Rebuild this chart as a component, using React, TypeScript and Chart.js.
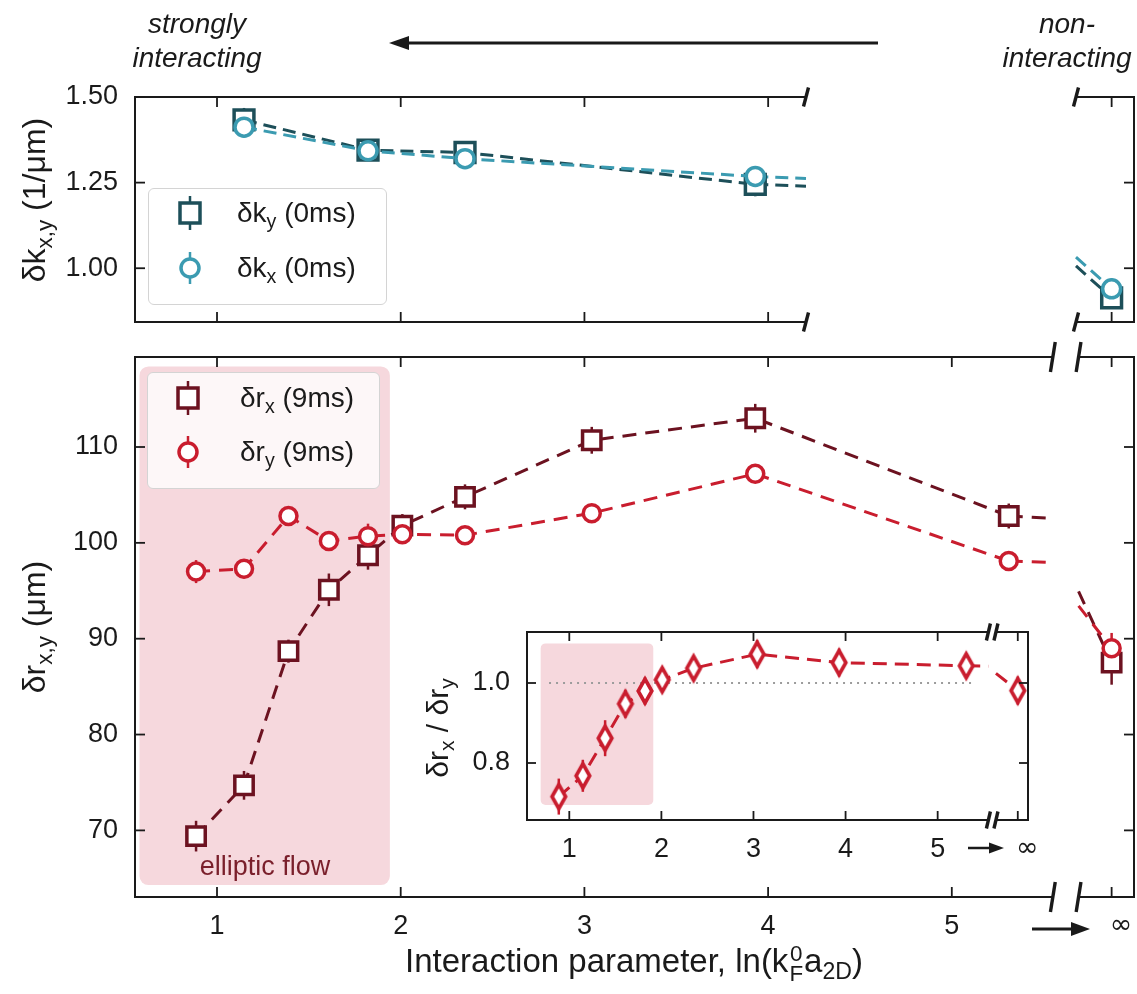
import React, { useEffect, useRef } from 'react';
import { Chart, registerables } from 'chart.js';

Chart.register(...registerables);

const FONT = "'Liberation Sans', Arial, Helvetica, sans-serif";
const MATH_FONT = "'DejaVu Sans', sans-serif";
Chart.defaults.font.family = FONT;

// ---------------------------------------------------------------------------
// Measured values
// ---------------------------------------------------------------------------
// Interaction parameter ln(k_F^0 a_2D) of the finite-interaction runs
const lnKa = [0.886, 1.147, 1.389, 1.609, 1.822, 2.009, 2.35, 3.04, 3.93, 5.31];

// Cloud widths after 9 ms of expansion (μm)
const drX = [69.4, 74.7, 88.7, 95.1, 98.7, 101.8, 104.8, 110.7, 113.0, 102.8];
const drXErr = [1.6, 1.5, 1.2, 1.7, 1.5, 1.2, 1.3, 1.4, 1.5, 1.3];
const drY = [97.0, 97.3, 102.8, 100.2, 100.7, 100.9, 100.8, 103.1, 107.2, 98.1];
const drYErr = [1.2, 1.0, 1.0, 1.0, 1.3, 0.9, 0.8, 0.8, 0.9, 0.8];

// Aspect ratio δr_x / δr_y
const ratio = [0.716, 0.768, 0.862, 0.948, 0.98, 1.008, 1.037, 1.072, 1.051, 1.043];
const ratioErr = [0.045, 0.04, 0.045, 0.035, 0.035, 0.03, 0.03, 0.035, 0.035, 0.03];

// In-trap momentum widths at 0 ms (1/μm), taken on a subset of runs
const lnKaMom = [1.147, 1.822, 2.35, 3.93];
const dkY = [1.433, 1.345, 1.338, 1.245];
const dkYErr = [0.035, 0.03, 0.03, 0.035];
const dkX = [1.412, 1.343, 1.32, 1.268];
const dkXErr = [0.03, 0.03, 0.03, 0.03];

// Non-interacting limit, ln(k_F^0 a_2D) → ∞
const drXInf = 87.5;
const drXInfErr = 2.3;
const drYInf = 89.0;
const drYInfErr = 1.6;
const ratioInf = 0.981;
const ratioInfErr = 0.035;
const dkYInf = 0.9135;
const dkYInfErr = 0.03;
const dkXInf = 0.94;
const dkXInfErr = 0.03;

// Tick values
const xTickVals = [1, 2, 3, 4, 5];
const dkTicks = [1.0, 1.25, 1.5];
const drTicks = [70, 80, 90, 100, 110];
const ratioTicks = [0.8, 1.0];

// Elliptic-flow window [x0, x1, y0, y1]
const flowBand = [0.578, 1.941, 64.3, 118.4];
const flowBandInset = [0.689, 1.912, 0.695, 1.099];
// Dotted guide δr_x = δr_y, x extent
const unityLine = [0.78, 5.38];

// ---------------------------------------------------------------------------
// Layout
// ---------------------------------------------------------------------------
const W = 1137;
const H = 994;
const YW = 100; // reserved y-axis width
const XH = 60; // reserved x-axis height
const INF_AT = 5.87; // axis position of the ∞ column
const FAR = 20; // where ∞ lies as seen from the finite-x side of a break

const INK = '#1a1a1a';
const TEAL_D = '#1d4f59';
const TEAL_L = '#3b9bb1';
const WINE = '#6c1220';
const RED = '#c91d2e';
const PINK = '#f6d8dd';

type Area = { left: number; top: number; right: number; bottom: number };

const pts = (xs: number[], ys: number[]) => xs.map((x, i) => ({ x, y: ys[i] }));
const lerp = (x0: number, y0: number, x1: number, y1: number, x: number) =>
  y0 + ((y1 - y0) * (x - x0)) / (x1 - x0);

// segment from the last finite point towards ∞, cut at the left side of a break
const toBreak = (xs: number[], ys: number[], yInf: number, xBreak: number) => {
  const i = xs.length - 1;
  return [
    { x: xs[i], y: ys[i] },
    { x: xBreak, y: lerp(xs[i], ys[i], FAR, yInf, xBreak) },
  ];
};
// segment entering the ∞ column from the right side of a break
const fromBreak = (ys: number[], yInf: number, xBreak: number, xPrior: number) => {
  const y0 = ys[ys.length - 1];
  return [
    { x: xBreak, y: lerp(xPrior, y0, INF_AT, yInf, xBreak) },
    { x: INF_AT, y: yInf },
  ];
};

function series(
  data: any[],
  color: string,
  style: any,
  radius: any,
  dash: number[],
  errors: number[] | null,
  order: number
) {
  return {
    data,
    errors,
    borderColor: color,
    backgroundColor: '#fff',
    borderWidth: 3,
    borderDash: dash,
    showLine: true,
    pointStyle: style,
    pointRadius: radius,
    pointHoverRadius: radius,
    pointBorderWidth: 3.5,
    pointBackgroundColor: '#fff',
    pointBorderColor: color,
    clip: false,
    order,
  };
}

type FrameOpts = {
  sides: string[];
  gap?: number[];
  breaks: number[];
  tickLen: number;
  breakLen: number;
  breakSlant: number;
};

function framePlugin(o: FrameOpts) {
  return {
    id: 'frame',
    afterDatasetsDraw(chart: any) {
      const { ctx, chartArea: a } = chart;
      const xs = chart.scales.x;
      const ys = chart.scales.y;
      const has = (s: string) => o.sides.indexOf(s) >= 0;
      const seg = (x0: number, y0: number, x1: number, y1: number) => {
        ctx.beginPath();
        ctx.moveTo(x0, y0);
        ctx.lineTo(x1, y1);
        ctx.stroke();
      };
      ctx.save();
      ctx.strokeStyle = INK;
      ctx.lineCap = 'butt';
      ctx.lineWidth = 2;
      const gap = o.gap ? o.gap.map((v) => xs.getPixelForValue(v)) : null;
      for (const side of ['top', 'bottom']) {
        if (!has(side)) continue;
        const yy = a[side];
        if (gap) {
          seg(a.left, yy, gap[0], yy);
          seg(gap[1], yy, a.right, yy);
        } else {
          seg(a.left, yy, a.right, yy);
        }
      }
      if (has('left')) seg(a.left, a.top - 1, a.left, a.bottom + 1);
      if (has('right')) seg(a.right, a.top - 1, a.right, a.bottom + 1);

      ctx.lineWidth = 1.8;
      const L = o.tickLen;
      for (const t of xs.ticks) {
        if (t.value < xs.min || t.value > xs.max) continue;
        const px = xs.getPixelForValue(t.value);
        if (has('top')) seg(px, a.top, px, a.top + L);
        if (has('bottom')) seg(px, a.bottom, px, a.bottom - L);
      }
      for (const t of ys.ticks) {
        if (t.value < ys.min || t.value > ys.max) continue;
        const py = ys.getPixelForValue(t.value);
        if (has('left')) seg(a.left, py, a.left + L, py);
        if (has('right')) seg(a.right, py, a.right - L, py);
      }

      ctx.lineWidth = 3.4;
      for (const b of o.breaks) {
        const px = xs.getPixelForValue(b);
        for (const side of ['top', 'bottom']) {
          const yy = a[side];
          seg(px - o.breakSlant, yy + o.breakLen / 2, px + o.breakSlant, yy - o.breakLen / 2);
        }
      }
      ctx.restore();
    },
  };
}

function bandPlugin(box: number[] | null, color: string, radius: number) {
  return {
    id: 'band',
    beforeDatasetsDraw(chart: any) {
      if (!box) return;
      const { ctx } = chart;
      const xs = chart.scales.x;
      const ys = chart.scales.y;
      const x0 = xs.getPixelForValue(box[0]);
      const x1 = xs.getPixelForValue(box[1]);
      const y0 = ys.getPixelForValue(box[3]);
      const y1 = ys.getPixelForValue(box[2]);
      ctx.save();
      ctx.fillStyle = color;
      ctx.beginPath();
      ctx.roundRect(x0, y0, x1 - x0, y1 - y0, radius);
      ctx.fill();
      ctx.restore();
    },
  };
}

// vertical error bars taken from each dataset's `errors` list
const errorBarPlugin = {
  id: 'errbars',
  beforeDatasetsDraw(chart: any) {
    const { ctx } = chart;
    const ys = chart.scales.y;
    ctx.save();
    ctx.lineWidth = 2.5;
    chart.data.datasets.forEach((ds: any, i: number) => {
      if (!ds.errors) return;
      const meta = chart.getDatasetMeta(i);
      ctx.strokeStyle = ds.borderColor;
      meta.data.forEach((el: any, j: number) => {
        const e = ds.errors[j];
        if (!e) return;
        const v = ds.data[j].y;
        ctx.beginPath();
        ctx.moveTo(el.x, ys.getPixelForValue(v - e));
        ctx.lineTo(el.x, ys.getPixelForValue(v + e));
        ctx.stroke();
      });
    });
    ctx.restore();
  },
};

function options(
  area: Area,
  xr: number[],
  yr: number[],
  xTicks: number[],
  yTicks: number[],
  showX: boolean,
  showY: boolean,
  yDigits: number
) {
  const tickFont = { family: FONT, size: 27 };
  return {
    responsive: false,
    animation: false,
    events: [],
    layout: {
      autoPadding: false,
      padding: {
        left: area.left - YW,
        top: area.top,
        right: W - area.right,
        bottom: H - area.bottom - XH,
      },
    },
    plugins: { legend: { display: false }, tooltip: { enabled: false } },
    scales: {
      x: {
        type: 'linear',
        bounds: 'data',
        min: xr[0],
        max: xr[1],
        grid: { display: false, drawTicks: false },
        border: { display: false },
        afterBuildTicks: (s: any) => {
          s.ticks = xTicks.map((v) => ({ value: v }));
        },
        afterFit: (s: any) => {
          s.height = XH;
          // labels may run past the plot edge; keep the plot area fixed
          s.paddingLeft = 0;
          s.paddingRight = 0;
        },
        ticks: {
          display: showX,
          autoSkip: false,
          maxRotation: 0,
          padding: 13,
          color: INK,
          font: (c: any) =>
            c.tick && c.tick.value === INF_AT ? { family: MATH_FONT, size: 27 } : tickFont,
          // the ∞ glyph sits a little right of its tick
          callback: (v: number) => (v === INF_AT ? '\u2002\u2009∞' : String(v)),
        },
      },
      y: {
        type: 'linear',
        bounds: 'data',
        min: yr[0],
        max: yr[1],
        grid: { display: false, drawTicks: false },
        border: { display: false },
        afterBuildTicks: (s: any) => {
          s.ticks = yTicks.map((v) => ({ value: v }));
        },
        afterFit: (s: any) => {
          s.width = YW;
          s.paddingTop = 0;
          s.paddingBottom = 0;
        },
        ticks: {
          display: showY,
          autoSkip: false,
          padding: 17,
          color: INK,
          font: tickFont,
          callback: (v: number) => (yDigits ? Number(v).toFixed(yDigits) : String(v)),
        },
      },
    },
  };
}

function makeDiamond(color: string) {
  const c = document.createElement('canvas');
  c.width = 22;
  c.height = 38;
  const g = c.getContext('2d')!;
  g.lineWidth = 3.6;
  g.strokeStyle = color;
  g.fillStyle = '#fff';
  g.lineJoin = 'miter';
  g.beginPath();
  g.moveTo(11, 7);
  g.lineTo(17.8, 19);
  g.lineTo(11, 31);
  g.lineTo(4.2, 19);
  g.closePath();
  g.fill();
  g.stroke();
  return c;
}

// ---------------------------------------------------------------------------
// Panels
// ---------------------------------------------------------------------------
const TOP_L: Area = { left: 135, top: 97, right: 806, bottom: 322 };
const TOP_R: Area = { left: 1076, top: 97, right: 1134, bottom: 322 };
const MAIN: Area = { left: 135, top: 357, right: 1134, bottom: 897 };
const INSET: Area = { left: 527, top: 632, right: 1028, bottom: 820 };

const X_MAIN = [0.5536, 5.9918];
const X_TOP_L = [0.5536, 4.206];
const X_TOP_R = [5.676, 5.9918];
const X_INSET = [0.5407, 5.981];
const GAP_MAIN = [5.55, 5.69];
const GAP_INSET = [5.551, 5.633];

const DASH_TOP = [13, 7];
const DASH_MAIN = [14, 9];
const DASH_INSET = [14, 8];

function topLeftConfig(): any {
  return {
    type: 'scatter',
    data: {
      datasets: [
        series(pts(lnKaMom, dkX), TEAL_L, 'circle', 9, DASH_TOP, dkXErr, 0),
        series(pts(lnKaMom, dkY), TEAL_D, 'rect', 14, DASH_TOP, dkYErr, 1),
        series(toBreak(lnKaMom, dkX, dkXInf, X_TOP_L[1]), TEAL_L, 'circle', 0, DASH_TOP, null, 2),
        series(toBreak(lnKaMom, dkY, dkYInf, X_TOP_L[1]), TEAL_D, 'rect', 0, DASH_TOP, null, 3),
      ],
    },
    options: options(TOP_L, X_TOP_L, [0.843, 1.5], xTickVals, dkTicks, false, true, 2),
    plugins: [
      errorBarPlugin,
      framePlugin({ sides: ['left', 'top', 'bottom'], breaks: [X_TOP_L[1]], tickLen: 10, breakLen: 19, breakSlant: 2.5 }),
    ],
  };
}

function topRightConfig(): any {
  const prior = 5.18;
  return {
    type: 'scatter',
    data: {
      datasets: [
        series(fromBreak(dkX, dkXInf, X_TOP_R[0], prior), TEAL_L, 'circle', [0, 9], DASH_TOP, [0, dkXInfErr], 0),
        series(fromBreak(dkY, dkYInf, X_TOP_R[0], prior), TEAL_D, 'rect', [0, 14], DASH_TOP, [0, dkYInfErr], 1),
      ],
    },
    options: options(TOP_R, X_TOP_R, [0.843, 1.5], [INF_AT], dkTicks, false, false, 2),
    plugins: [
      errorBarPlugin,
      framePlugin({ sides: ['right', 'top', 'bottom'], breaks: [X_TOP_R[0]], tickLen: 10, breakLen: 19, breakSlant: 2.5 }),
    ],
  };
}

function mainConfig(): any {
  const prior = 5.5;
  return {
    type: 'scatter',
    data: {
      datasets: [
        series(pts(lnKa, drY), RED, 'circle', 8.5, DASH_MAIN, drYErr, 0),
        series(pts(lnKa, drX), WINE, 'rect', 13, DASH_MAIN, drXErr, 1),
        series(fromBreak(drY, drYInf, GAP_MAIN[1], prior), RED, 'circle', [0, 8.5], DASH_MAIN, [0, drYInfErr], 2),
        series(fromBreak(drX, drXInf, GAP_MAIN[1], prior), WINE, 'rect', [0, 13], DASH_MAIN, [0, drXInfErr], 3),
        series(toBreak(lnKa, drY, drYInf, GAP_MAIN[0]), RED, 'circle', 0, DASH_MAIN, null, 4),
        series(toBreak(lnKa, drX, drXInf, GAP_MAIN[0]), WINE, 'rect', 0, DASH_MAIN, null, 5),
      ],
    },
    options: options(MAIN, X_MAIN, [63.05, 119.39], [...xTickVals, INF_AT], drTicks, true, true, 0),
    plugins: [
      bandPlugin(flowBand, PINK, 9),
      errorBarPlugin,
      framePlugin({ sides: ['left', 'right', 'top', 'bottom'], gap: GAP_MAIN, breaks: GAP_MAIN, tickLen: 10, breakLen: 30, breakSlant: 2.4 }),
    ],
  };
}

function insetConfig(diamond: HTMLCanvasElement): any {
  const prior = 5.53;
  return {
    type: 'scatter',
    data: {
      datasets: [
        series(pts(lnKa, ratio), RED, diamond, 8, DASH_INSET, ratioErr, 0),
        series(fromBreak(ratio, ratioInf, GAP_INSET[1], prior), RED, diamond, [0, 8], DASH_INSET, [0, ratioInfErr], 1),
        series(toBreak(lnKa, ratio, ratioInf, GAP_INSET[0]), RED, diamond, 0, DASH_INSET, null, 2),
        {
          data: unityLine.map((x) => ({ x, y: 1.0 })),
          showLine: true,
          borderColor: '#9c9c9c',
          borderWidth: 2,
          borderDash: [2, 5],
          pointRadius: 0,
          clip: false,
          order: 9,
        },
      ],
    },
    options: options(INSET, X_INSET, [0.6575, 1.1275], [...xTickVals, INF_AT], ratioTicks, true, true, 1),
    plugins: [
      {
        id: 'insetBg',
        beforeDraw(chart: any) {
          const { ctx, chartArea: a } = chart;
          ctx.save();
          ctx.fillStyle = '#fff';
          ctx.fillRect(a.left, a.top, a.right - a.left, a.bottom - a.top);
          ctx.restore();
        },
      },
      bandPlugin(flowBandInset, PINK, 5),
      errorBarPlugin,
      framePlugin({ sides: ['left', 'right', 'top', 'bottom'], gap: GAP_INSET, breaks: GAP_INSET, tickLen: 9, breakLen: 17, breakSlant: 2 }),
    ],
  };
}

// ---------------------------------------------------------------------------
// Text helpers
// ---------------------------------------------------------------------------
const Sub = ({ children }: { children: React.ReactNode }) => (
  <span style={{ fontSize: '0.7em', position: 'relative', top: '0.3em', lineHeight: 0 }}>{children}</span>
);

const Stack = ({ top, bottom }: { top: string; bottom: string }) => (
  <span
    style={{
      display: 'inline-flex',
      flexDirection: 'column',
      fontSize: '0.68em',
      lineHeight: 0.92,
      verticalAlign: '0.5em',
      textAlign: 'center',
      margin: '0 1px',
    }}
  >
    <span>{top}</span>
    <span>{bottom}</span>
  </span>
);

type AtProps = {
  x: number;
  y: number;
  size: number;
  rot?: number;
  italic?: boolean;
  color?: string;
  left?: boolean;
  lineHeight?: string;
  children: React.ReactNode;
};

const At = ({ x, y, size, rot, italic, color, left, lineHeight, children }: AtProps) => (
  <div
    style={{
      position: 'absolute',
      left: x,
      top: y,
      transform: `translate(${left ? '0' : '-50%'}, -50%)${rot ? ` rotate(${rot}deg)` : ''}`,
      fontSize: size,
      fontStyle: italic ? 'italic' : 'normal',
      whiteSpace: 'nowrap',
      textAlign: 'center',
      lineHeight: lineHeight || '1.15',
      color: color || INK,
      fontFamily: FONT,
    }}
  >
    {children}
  </div>
);

const SquareMark = ({ x, y, color }: { x: number; y: number; color: string }) => (
  <svg style={{ position: 'absolute', left: x - 20, top: y - 20 }} width={40} height={40}>
    <line x1={20} y1={3} x2={20} y2={37} stroke={color} strokeWidth={2.5} />
    <rect x={10} y={10} width={20} height={20} fill="#fff" stroke={color} strokeWidth={3.5} />
  </svg>
);

const CircleMark = ({ x, y, color }: { x: number; y: number; color: string }) => (
  <svg style={{ position: 'absolute', left: x - 20, top: y - 20 }} width={40} height={40}>
    <line x1={20} y1={4} x2={20} y2={36} stroke={color} strokeWidth={2.5} />
    <circle cx={20} cy={20} r={9} fill="#fff" stroke={color} strokeWidth={3.5} />
  </svg>
);

const LegendBox = ({ x, y, w, h, bg }: { x: number; y: number; w: number; h: number; bg: string }) => (
  <div
    style={{
      position: 'absolute',
      left: x,
      top: y,
      width: w,
      height: h,
      boxSizing: 'border-box',
      border: '1.5px solid #d4d4d4',
      borderRadius: 6,
      background: bg,
    }}
  />
);

export default function App() {
  const cTopL = useRef<HTMLCanvasElement>(null);
  const cTopR = useRef<HTMLCanvasElement>(null);
  const cMain = useRef<HTMLCanvasElement>(null);
  const cInset = useRef<HTMLCanvasElement>(null);

  useEffect(() => {
    const diamond = makeDiamond(RED);
    const charts = [
      new Chart(cTopL.current!, topLeftConfig()),
      new Chart(cTopR.current!, topRightConfig()),
      new Chart(cMain.current!, mainConfig()),
      new Chart(cInset.current!, insetConfig(diamond)),
    ];
    return () => charts.forEach((c) => c.destroy());
  }, []);

  const canvasStyle: React.CSSProperties = { position: 'absolute', left: 0, top: 0 };

  return (
    <div
      style={{
        position: 'absolute',
        left: 0,
        top: 0,
        width: W,
        height: H,
        background: '#fff',
        overflow: 'hidden',
        fontFamily: FONT,
        color: INK,
      }}
    >
      <canvas ref={cTopL} width={W} height={H} style={canvasStyle} />
      <canvas ref={cTopR} width={W} height={H} style={canvasStyle} />
      <canvas ref={cMain} width={W} height={H} style={canvasStyle} />
      <canvas ref={cInset} width={W} height={H} style={canvasStyle} />

      {/* regime annotations and arrows */}
      <At x={197} y={41} size={28} italic lineHeight="34px">
        strongly
        <br />
        interacting
      </At>
      <At x={1067} y={41} size={28} italic lineHeight="34px">
        non-
        <br />
        interacting
      </At>
      <svg style={{ position: 'absolute', left: 0, top: 0, pointerEvents: 'none' }} width={W} height={H}>
        <line x1={878} y1={43} x2={404} y2={43} stroke={INK} strokeWidth={3} />
        <polygon points="389,43 409,36 409,50" fill={INK} />
        <line x1={1032} y1={929} x2={1074} y2={929} stroke={INK} strokeWidth={3} />
        <polygon points="1090,929 1071,922 1071,936" fill={INK} />
        <line x1={968} y1={848} x2={992} y2={848} stroke={INK} strokeWidth={2.5} />
        <polygon points="1004,848 989,842.5 989,853.5" fill={INK} />
      </svg>

      {/* axis titles */}
      <At x={34} y={200} size={32} rot={-90}>
        δk<Sub>x,y</Sub> (1/μm)
      </At>
      <At x={34} y={627} size={32} rot={-90}>
        δr<Sub>x,y</Sub> (μm)
      </At>
      <At x={438} y={728} size={30} rot={-90}>
        δr<Sub>x</Sub> / δr<Sub>y</Sub>
      </At>
      <At x={634} y={964} size={33}>
        Interaction parameter, ln(k<Stack top="0" bottom="F" />a<Sub>2D</Sub>)
      </At>

      {/* legends */}
      <LegendBox x={148} y={188} w={239} h={117} bg="rgba(255,255,255,0.8)" />
      <SquareMark x={190} y={213} color={TEAL_D} />
      <CircleMark x={190} y={268} color={TEAL_L} />
      <At x={237} y={213} size={28} left>
        δk<Sub>y</Sub> (0ms)
      </At>
      <At x={237} y={268} size={28} left>
        δk<Sub>x</Sub> (0ms)
      </At>

      <LegendBox x={147} y={372} w={233} h={117} bg="rgba(255,255,255,0.8)" />
      <SquareMark x={188} y={398} color={WINE} />
      <CircleMark x={188} y={452} color={RED} />
      <At x={240} y={398} size={28} left>
        δr<Sub>x</Sub> (9ms)
      </At>
      <At x={240} y={452} size={28} left>
        δr<Sub>y</Sub> (9ms)
      </At>

      <At x={265} y={867} size={27} color="#7a1f2b">
        elliptic flow
      </At>
    </div>
  );
}
